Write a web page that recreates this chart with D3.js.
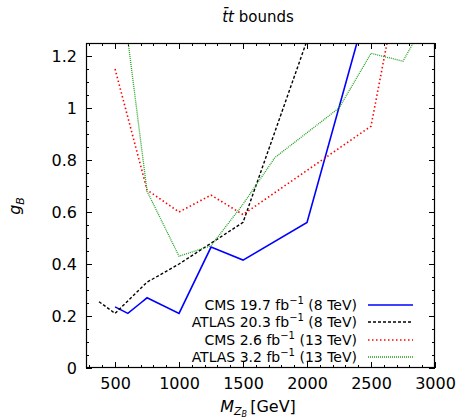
<!DOCTYPE html>
<html><head><meta charset="utf-8">
<script src="https://cdn.jsdelivr.net/npm/d3@7"></script>
<style>body{margin:0;background:#fff}svg{display:block;font-family:"DejaVu Sans",sans-serif}</style>
</head><body><svg id="c" width="463" height="420"></svg>
<script>
// Data
const cmsMass8 = [500, 600, 700, 750, 1000, 1250, 1500, 2000, 2500];
const cmsG8    = [0.235, 0.21, 0.25, 0.27, 0.21, 0.465, 0.415, 0.56, 1.445];
const atlasMass8 = [375, 500, 750, 1000, 1500, 2000];
const atlasG8    = [0.255, 0.21, 0.33, 0.40, 0.56, 1.26];
const cmsMass13 = [500, 750, 1000, 1250, 1500, 2500, 2750];
const cmsG13    = [1.15, 0.685, 0.60, 0.665, 0.59, 0.93, 1.57];
const atlasMass13 = [500, 750, 1000, 1250, 1500, 1750, 2250, 2500, 2750, 3000];
const atlasG13    = [1.65, 0.68, 0.43, 0.47, 0.63, 0.81, 1.0, 1.21, 1.18, 1.40];
const seriesNames = ["CMS 19.7 fb", "ATLAS 20.3 fb", "CMS 2.6 fb", "ATLAS 3.2 fb"];
const seriesEnergy = ["(8 TeV)", "(8 TeV)", "(13 TeV)", "(13 TeV)"];
const xTickValues = [500, 1000, 1500, 2000, 2500, 3000];
const yTickValues = [0, 0.2, 0.4, 0.6, 0.8, 1, 1.2];

const series = [
  {name: seriesNames[0], en: seriesEnergy[0], x: cmsMass8, y: cmsG8, color: "#0000ff", w: 1.6, dash: null},
  {name: seriesNames[1], en: seriesEnergy[1], x: atlasMass8, y: atlasG8, color: "#000000", w: 1.4, dash: "3,2"},
  {name: seriesNames[2], en: seriesEnergy[2], x: cmsMass13, y: cmsG13, color: "#ff0000", w: 1.6, dash: "1.5,2.5"},
  {name: seriesNames[3], en: seriesEnergy[3], x: atlasMass13, y: atlasG13, color: "#20a020", w: 1.3, dash: "1,1"}
];

const svg = d3.select("#c");
const L = 86, R = 435, T = 43, B = 368;
const x = d3.scaleLinear().domain([273, 3000]).range([L, R]);
const y = d3.scaleLinear().domain([0, 1.25]).range([B, T]);

svg.append("defs").append("clipPath").attr("id", "clip")
  .append("rect").attr("x", L).attr("y", T).attr("width", R - L).attr("height", B - T);

// ticks (inward, all four sides)
const xMinor = d3.range(300, 3001, 100);
const yMinor = d3.range(0, 1.2501, 0.05);
const tickG = svg.append("g").attr("stroke", "#000").attr("stroke-width", 1);
xMinor.forEach(v => {
  const major = Math.abs(v % 500) < 1e-6;
  const len = major ? 6 : 3;
  const px = Math.round(x(v)) + 0.5;
  tickG.append("line").attr("x1", px).attr("x2", px).attr("y1", B).attr("y2", B - len);
  tickG.append("line").attr("x1", px).attr("x2", px).attr("y1", T).attr("y2", T + len);
});
yMinor.forEach(v => {
  const major = Math.abs(v * 5 - Math.round(v * 5)) < 1e-6;
  const len = major ? 6 : 3;
  const py = Math.round(y(v)) + 0.5;
  tickG.append("line").attr("x1", L).attr("x2", L + len).attr("y1", py).attr("y2", py);
  tickG.append("line").attr("x1", R).attr("x2", R - len).attr("y1", py).attr("y2", py);
});

// axes labels via d3 axes (ticks hidden)
const xAxis = svg.append("g").attr("transform", `translate(0,${B})`)
  .call(d3.axisBottom(x).tickValues(xTickValues).tickSize(0).tickPadding(10).tickFormat(d3.format("d")));
xAxis.select(".domain").remove();
xAxis.selectAll("text").attr("font-size", 16).attr("font-family", "DejaVu Sans").attr("fill", "#000");
const yAxis = svg.append("g").attr("transform", `translate(${L},0)`)
  .call(d3.axisLeft(y).tickValues(yTickValues).tickSize(0).tickPadding(9).tickFormat(d => d3.format("~g")(d)));
yAxis.select(".domain").remove();
yAxis.selectAll("text").attr("font-size", 16).attr("font-family", "DejaVu Sans").attr("fill", "#000");

// lines
const line = d3.line().x(d => x(d[0])).y(d => y(d[1]));
const lg = svg.append("g").attr("clip-path", "url(#clip)");
series.forEach(s => {
  lg.append("path").datum(s.x.map((v, i) => [v, s.y[i]]))
    .attr("d", line).attr("fill", "none").attr("stroke", s.color)
    .attr("stroke-width", s.w).attr("stroke-dasharray", s.dash);
});

// frame
svg.append("rect").attr("x", L + 0.5).attr("y", T + 0.5).attr("width", R - L - 1).attr("height", B - T - 1)
  .attr("fill", "none").attr("stroke", "#000").attr("stroke-width", 1.2);

// legend
const legY = [305, 322, 340, 357];
series.forEach((s, i) => {
  const t = svg.append("text").attr("x", 357).attr("y", legY[i] + 5).attr("text-anchor", "end")
    .attr("font-size", 14).attr("fill", "#000");
  t.append("tspan").text(s.name);
  t.append("tspan").text("\u22121").attr("font-size", 10).attr("dy", -6);
  t.append("tspan").text(" " + s.en).attr("dy", 6);
  svg.append("line").attr("x1", 368).attr("x2", 413).attr("y1", legY[i]).attr("y2", legY[i])
    .attr("stroke", s.color).attr("stroke-width", s.w).attr("stroke-dasharray", s.dash);
});

// title
const title = svg.append("text").attr("x", 258).attr("y", 22).attr("text-anchor", "middle").attr("font-size", 15);
title.append("tspan").text("t\u0304t").attr("font-style", "italic");
title.append("tspan").text(" bounds");

// x label
const xl = svg.append("text").attr("x", 258).attr("y", 412).attr("text-anchor", "middle").attr("font-size", 16);
xl.append("tspan").text("M").attr("font-style", "italic");
xl.append("tspan").text("Z").attr("font-style", "italic").attr("font-size", 11).attr("dy", 3);
xl.append("tspan").text("B").attr("font-style", "italic").attr("font-size", 8).attr("dy", 2);
xl.append("tspan").text("\u2009[GeV]").attr("dy", -5);

// y label
const yl = svg.append("text").attr("transform", "translate(20,206) rotate(-90)").attr("text-anchor", "middle").attr("font-size", 16);
yl.append("tspan").text("g").attr("font-style", "italic");
yl.append("tspan").text("B").attr("font-style", "italic").attr("font-size", 11).attr("dy", 4);
</script></body></html>
